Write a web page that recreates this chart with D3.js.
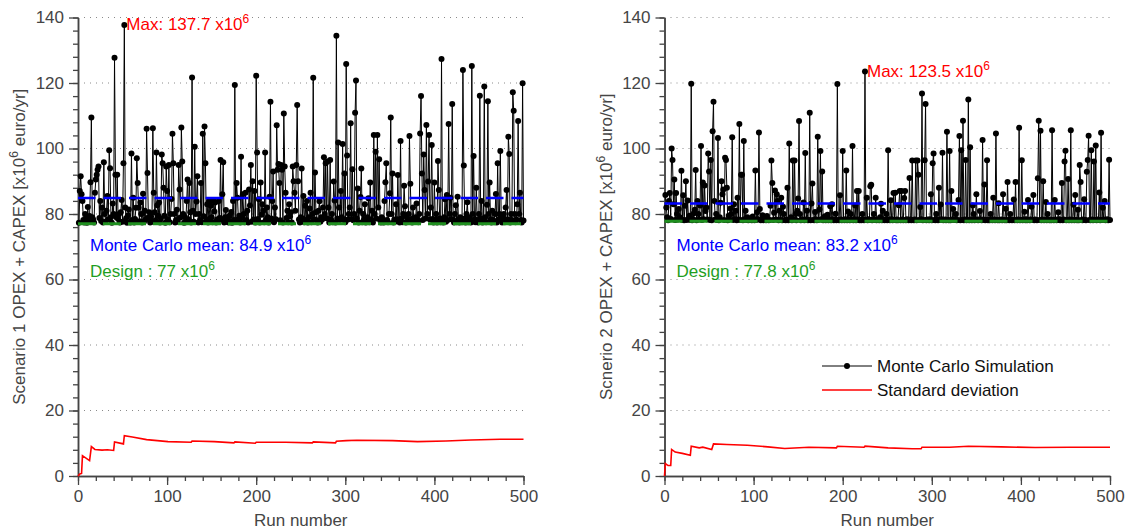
<!DOCTYPE html>
<html>
<head>
<meta charset="utf-8">
<script src="https://cdn.jsdelivr.net/npm/d3@7"></script>
<style>
  html, body { margin: 0; padding: 0; background: #fff; }
  svg { display: block; font-family: "Liberation Sans", Arial, Helvetica, sans-serif; }
</style>
</head>
<body>
<svg id="chart" width="1127" height="529"></svg>
<script>
// ---------------- DATA ----------------
const xTicks = [0, 100, 200, 300, 400, 500];
const yTicks = [0, 20, 40, 60, 80, 100, 120, 140];

// Scenario 1: Monte Carlo simulation, runs 1..500 (values x10^6 euro/yr)
const scenario1Runs = [
77.3,87,91.5,86,84,78.2,77.4,80,78.6,77.3,82.1,77.6,79.4,89.7,109.5,79,78.3,77.4,86.5,90.5,
92,93.5,94.5,78.8,84,77.9,82,77.4,95.8,80,77.6,81,85.5,78.4,99.5,94,79,77.3,83.2,80,
127.7,92,79,92,78.5,80,77.4,80.5,84.3,77.6,95.5,137.7,82,78.7,77.3,79.6,81.4,77.5,77.4,98.5,
78.2,85,77.4,78.5,81.9,97,89.5,82,77.8,83.5,80,77.4,86.2,77.6,81,78.3,106,92.5,78.9,80.5,
77.4,79.2,77.6,106.2,86.5,80.5,78.1,98.8,82.7,79.5,83.5,77.4,78.6,98.2,95.5,88,79.5,77.3,94.5,87,
78.4,95,77.5,80,84.6,104.5,95.5,80,77.4,78.2,81.3,77.6,95,87.5,78.9,106.4,96,80,77.3,79.1,
77.5,84,90.5,78.4,89.5,80.5,77.4,121.7,81,77.6,100.5,80,83.8,91.5,77.4,80,78.2,89.5,77.5,104.5,
79.3,106.7,95.5,78.1,83,77.4,84,78.6,82.5,79,77.5,84,80.8,83.5,77.4,78.3,77.6,84,78.8,96.5,
78.4,86,95.8,77.4,79,81.2,77.6,78.3,77.4,79.5,77.5,80.6,77.3,84,78.2,119.4,77.6,89.5,85,78.4,
79.5,77.4,97.5,78.9,86,80,77.5,86.5,78.2,81,77.4,87.5,82.6,95,77.6,90,78.3,87,77.4,122.2,
98.8,78.5,84.5,77.4,89.6,79.8,83,81,77.5,98.8,78.2,82,79,77.4,85.3,114.3,78.6,84,93,77.5,
82,78.4,107.1,93.5,95.3,89.5,78.1,95,93.5,77.4,110.7,94.5,86.5,78.8,81,77.5,83,79.2,80.5,77.4,
94.5,90,86.5,81,95,113.3,90,78.3,77.4,79,93.9,78.6,85.5,77.5,82.5,78.2,84,77.4,79,81.7,
86.5,77.5,80,121.6,78.4,92.7,80.5,78.1,77.4,81,83.9,77.6,79,78.3,82,97.3,80,95.5,78.7,96,
82,77.4,96.5,78.3,80,77.5,89.9,84.1,77.4,134.4,78.6,101.8,82,78.2,87,79,101.4,78.4,92.4,77.5,
125.8,97.9,78.3,80,82,107.7,78.5,93.7,78.1,80,110.9,120.8,78.6,87.8,77.4,81,85.2,93.9,77.5,80,
78.4,83,77.4,78.2,79,84.8,77.5,89.6,78.3,81,77.4,104.1,80,99,78.6,104.1,82,96.7,78.2,77.4,
79,78.5,77.4,84,89.7,95.5,78.2,77.5,80,86.3,109.5,80,92.4,77.4,78.3,77.6,83,78.4,91.9,78.1,
77.4,102.3,78.6,77.5,80,88.6,82.4,77.4,79,78.2,80,103.8,89.2,78.5,77.4,82,78.3,77.6,79,83.2,
78.4,77.5,80,104.6,116,92.4,78.2,98.2,87.3,78.6,107.2,80,89.9,104.1,78.3,82,101.1,78.5,77.4,89.6,
78.2,80,77.4,96.2,87.3,78.6,77.5,127.3,78.3,77.4,79,84.5,77.6,85.8,78.2,107.5,80,85,78.4,113.6,
78.3,77.4,80,82.7,77.5,85.3,78.4,77.4,79,78.2,77.5,124,94.8,78.6,77.4,80,83.6,77.5,79,78.3,
77.4,125.2,80,97.7,78.4,77.5,88,78.2,77.4,80,116.1,78.6,84,77.4,78.3,118.9,79,77.5,82.8,114.4,
80,89.6,78.4,77.4,81,78.2,77.5,80,86.1,77.4,95.5,78.3,80,99.2,78.6,77.4,79,80,77.5,82,
87.3,78.4,103.6,98.3,77.4,80,78.2,117.2,111.5,80,77.5,78.3,83,108.4,80,86.5,78.2,77.4,119.9,78
];

// Scenario 2: Monte Carlo simulation, runs 1..500
const scenario2Runs = [
85.8,82,79,78.1,84,86.4,78.5,100,96.5,83,90.5,78.2,86.4,80,78.3,81.5,79,78.4,93.2,78.2,
85.7,78.1,82.5,90,78.2,84.1,78.4,79.5,78.2,119.8,78.1,78.5,80.2,81.3,93.4,78.1,84,80,78.3,82.6,
100.8,78.2,89.6,78.4,88.7,80.9,82,78.3,98.5,93,78.2,96.5,78.1,105.3,114.3,84,78.3,80,78.2,103.2,
78.1,79,83.4,90,86,87.5,78.2,97.2,96.5,88,78.1,79.5,78.3,81.7,80,103.4,78.2,83,78.4,81,
78.1,85,78.3,107.5,78.2,92,92,78.1,102.3,78.4,81,78.2,79,78.1,78.3,78.2,78.5,78.1,79.2,78.3,
78.1,93.3,78.2,80.5,78.4,104.9,81.5,78.1,78.3,79.6,78.1,78.5,78.2,78.1,79.4,78.3,78.1,78.2,82.5,96.3,
89.5,78.2,80.4,87.2,78.3,86,84,78.1,81,78.2,85,78.1,82.2,80,78.2,78.1,78.3,88,78.1,101.5,
78.2,79,78.1,96.3,78.3,96.3,80,78.1,81,84.7,108.4,80,78.1,78.4,78.2,83.5,78.1,98.6,78.3,81,
78.1,78.2,110.9,78.1,83.2,89.3,78.2,78.1,80.6,78.3,78.1,103.6,78.2,81.4,99.2,78.4,93,78.1,78.2,79.3,
78.1,78.2,79.8,78.1,78.3,82.4,78.1,83,78.4,78.1,78.2,80.1,78.1,119.7,78.2,78.1,85.7,78.3,78.1,99.2,
78.2,78.1,78.4,93.3,78.1,80.8,78.3,78.1,80,78.2,100.8,78.1,78.4,82.6,78.1,87,78.3,87,78.1,78.2,
78.1,80,78.3,78.1,123.5,78.2,85,78.1,78.4,78.2,88.5,88.9,78.1,78.3,80,78.2,85,78.1,78.3,78.2,
78.1,79,83.1,78.1,81,78.3,78.1,78.2,80,78.1,99.5,78.3,78.1,84.2,78.4,78.1,86.4,78.2,86.5,78.1,
78.3,78.1,82.7,87,78.1,87,78.3,78.1,84.9,87,78.1,78.4,78.2,78.1,91,78.3,78.1,96.3,78.2,78.1,
78.3,96.3,78.1,96.3,92,78.2,82.1,78.4,116.8,78.1,78.2,96.4,113.6,78.1,78.3,78.2,78.1,78.4,86,78.1,
95.5,98.5,78.2,78.1,80,78.3,78.1,88,78.2,82.9,78.4,98.7,78.1,78.2,78.3,78.1,105.1,78.2,78.1,99.2,
78.1,87,78.3,81.5,78.2,78.4,80,78.1,78.2,84.3,103.8,78.1,99.5,78.2,108.5,78.1,78.3,96.5,78.1,78.2,
115,78.1,100.4,78.3,78.1,82.6,80,78.1,78.4,86,78.2,78.1,78.3,80.9,78.2,78.1,102.6,78.3,89,78.1,
78.2,96.4,78.1,78.3,78.1,80,78.2,78.1,85,78.3,78.1,104.6,78.2,78.1,83.3,78.1,78.2,78.3,78.1,86,
78.2,78.1,81.6,78.1,89.8,78.2,78.1,80,78.3,78.1,78.2,84.4,78.1,89.8,78.2,78.1,78.3,106.3,78.1,78.2,
96.4,78.1,78.3,80.7,78.1,78.4,78.1,84.3,78.2,78.1,78.3,82.2,78.2,85.8,78.1,78.3,78.2,78.1,90.9,108.5,
78.2,105.4,78.1,78.3,90,78.1,78.2,83.7,78.1,80,78.2,78.1,78.3,78.1,105.6,78.2,78.1,84.3,78.3,78.1,
78.2,80.5,78.4,78.1,78.2,89.5,78.1,78.3,96,99.3,78.1,78.2,90.7,78.1,78.3,105.6,78.1,78.2,82.8,78.1,
85.8,78.2,78.1,81.3,78.1,95,89.8,78.2,78.1,78.3,84.5,78.2,78.1,92.9,96.5,103.9,78.2,78.1,99.5,78.3,
78.1,96,78.2,100.9,78.1,78.3,78.2,86.6,78.1,104.8,78.2,81.9,78.3,84,78.1,78.2,78.4,78.1,96.6,78.2
];

// Running standard deviation, read at its turning points: [run, value]
const scenario1Std = [
[0,0],[2,0.6],[4,0.8],[5,6.2],[13,4.7],[15,9.0],[19,8.1],[27,7.9],[33,8.0],[40,7.8],[41,10.4],
[51,9.8],[52,12.3],[61,11.9],[77,11.1],[101,10.5],[127,10.3],[128,10.7],[153,10.5],[175,10.1],
[176,10.4],[199,10.0],[200,10.3],[233,10.3],[263,10.1],[264,10.4],[289,10.1],[290,10.6],[301,10.8],
[313,10.9],[353,10.8],[381,10.5],[413,10.7],[441,11.0],[474,11.2],[500,11.2]
];
const scenario2Std = [
[0,0],[1,3.8],[4,3.2],[7,3.2],[8,8.1],[12,7.3],[20,6.9],[29,6.3],[30,9.1],[39,8.6],[43,8.8],
[53,8.1],[55,9.8],[70,9.6],[93,9.4],[116,8.9],[135,8.4],[162,8.8],[193,8.6],[194,9.1],[224,8.8],
[225,9.1],[251,8.6],[278,8.3],[288,8.3],[289,8.8],[320,8.8],[341,9.1],[378,8.9],[416,8.7],[455,8.8],[500,8.8]
];

const meanValues = [84.9, 83.2];
const designValues = [77, 77.8];
const maxValues = [137.7, 123.5];
const yLabels = ["Scenario 1 OPEX + CAPEX [x10", "Scnerio 2 OPEX + CAPEX [x10"];
const legendLabels = ["Monte Carlo Simulation", "Standard deviation"];

// ---------------- DRAW ----------------
const svg = d3.select("#chart");
const FONT = 17;
const SUPF = 12;
const panels = [
  { x0: 78, x1: 523.5, runs: scenario1Runs, std: scenario1Std, mean: meanValues[0], design: designValues[0], max: maxValues[0], ylab: yLabels[0], meanLab: "84.9", designLab: "77" },
  { x0: 664.5, x1: 1110, runs: scenario2Runs, std: scenario2Std, mean: meanValues[1], design: designValues[1], max: maxValues[1], ylab: yLabels[1], meanLab: "83.2", designLab: "77.8" }
];
const yTop = 17.5, yBot = 476;

function sup(textSel, base, supTxt, tail) {
  textSel.append("tspan").text(base);
  textSel.append("tspan").attr("font-size", SUPF).attr("dy", -7).text(supTxt);
  if (tail) textSel.append("tspan").attr("dy", 7).text(tail);
}

panels.forEach((p, pi) => {
  const x = d3.scaleLinear().domain([0, 500]).range([p.x0, p.x1]);
  const y = d3.scaleLinear().domain([0, 140]).range([yBot, yTop]);
  const g = svg.append("g");

  // gridlines
  g.selectAll(".grid").data(yTicks.filter(d => d > 0)).join("line")
    .attr("x1", x(0)).attr("x2", x(500))
    .attr("y1", d => y(d)).attr("y2", d => y(d))
    .attr("stroke", "#8a8a8a").attr("stroke-width", 1).attr("stroke-dasharray", "1,5");

  // axes
  const axColor = "#444";
  const xMinor = g.append("g").attr("transform", `translate(0,${yBot})`)
    .call(d3.axisBottom(x).tickValues(d3.range(0, 501, 20)).tickSize(5).tickSizeOuter(0).tickFormat(""));
  const xMajor = g.append("g").attr("transform", `translate(0,${yBot})`)
    .call(d3.axisBottom(x).tickValues(xTicks).tickSize(9).tickSizeOuter(0).tickPadding(5));
  const yMinor = g.append("g").attr("transform", `translate(${p.x0},0)`)
    .call(d3.axisLeft(y).tickValues(d3.range(0, 141, 4)).tickSize(5).tickSizeOuter(0).tickFormat(""));
  const yMajor = g.append("g").attr("transform", `translate(${p.x0},0)`)
    .call(d3.axisLeft(y).tickValues(yTicks).tickSize(9).tickSizeOuter(0).tickPadding(5));
  [xMinor, xMajor, yMinor, yMajor].forEach(a => {
    a.selectAll("path.domain").attr("stroke", axColor).attr("stroke-width", 1.5);
    a.selectAll(".tick line").attr("stroke", axColor).attr("stroke-width", 1.3);
    a.selectAll(".tick text").attr("fill", "#454545").attr("font-size", FONT)
      .attr("font-family", "Liberation Sans, Arial, sans-serif");
  });

  // axis titles
  g.append("text").attr("x", (p.x0 + p.x1) / 2).attr("y", 526)
    .attr("text-anchor", "middle").attr("fill", "#454545").attr("font-size", FONT).text("Run number");
  const yl = g.append("text")
    .attr("transform", `translate(${p.x0 - 53},${(yTop + yBot) / 2}) rotate(-90)`)
    .attr("text-anchor", "middle").attr("fill", "#454545").attr("font-size", FONT);
  sup(yl, p.ylab, "6", " euro/yr]");

  // MC line
  const pts = p.runs.map((v, i) => [i + 1, v]);
  g.append("path").datum(pts)
    .attr("d", d3.line().x(d => x(d[0])).y(d => y(d[1])))
    .attr("fill", "none").attr("stroke", "#000").attr("stroke-width", 1);

  // dots
  g.selectAll(".dot").data(pts).join("circle")
    .attr("cx", d => x(d[0])).attr("cy", d => y(d[1])).attr("r", 3).attr("fill", "#000");

  // design line
  g.append("line").attr("x1", x(0)).attr("x2", x(500))
    .attr("y1", y(p.design)).attr("y2", y(p.design))
    .attr("stroke", "#1f8f1f").attr("stroke-width", 3).attr("stroke-dasharray", "18,7");

  // mean line
  g.append("line").attr("x1", x(0)).attr("x2", x(500))
    .attr("y1", y(p.mean)).attr("y2", y(p.mean))
    .attr("stroke", "#0000ff").attr("stroke-width", 2.5).attr("stroke-dasharray", "17.5,8");

  // std line
  g.append("path").datum(p.std)
    .attr("d", d3.line().x(d => x(d[0])).y(d => y(d[1])))
    .attr("fill", "none").attr("stroke", "#ff0000").attr("stroke-width", 1.6);

  // max annotation
  const maxIdx = d3.maxIndex(p.runs);
  const mt = g.append("text").attr("x", x(maxIdx + 1) + 2).attr("y", y(p.runs[maxIdx]) + 5)
    .attr("fill", "#ff0000").attr("font-size", FONT);
  sup(mt, "Max: " + p.max + " x10", "6");

  // mean & design annotations
  const t1 = g.append("text").attr("x", p.x0 + 12).attr("y", 251).attr("fill", "#0000ff").attr("font-size", FONT);
  sup(t1, "Monte Carlo mean: " + p.meanLab + " x10", "6");
  const t2 = g.append("text").attr("x", p.x0 + 12).attr("y", 276.5).attr("fill", "#1f9e1f").attr("font-size", FONT);
  sup(t2, "Design : " + p.designLab + " x10", "6");

  // legend in second panel
  if (pi === 1) {
    const lg = g.append("g");
    lg.append("line").attr("x1", 822).attr("x2", 872).attr("y1", 366).attr("y2", 366)
      .attr("stroke", "#000").attr("stroke-width", 1);
    lg.append("circle").attr("cx", 847).attr("cy", 366).attr("r", 3).attr("fill", "#000");
    lg.append("text").attr("x", 877).attr("y", 372).attr("font-size", FONT).attr("fill", "#111").text(legendLabels[0]);
    lg.append("line").attr("x1", 822).attr("x2", 872).attr("y1", 390).attr("y2", 390)
      .attr("stroke", "#ff0000").attr("stroke-width", 1.6);
    lg.append("text").attr("x", 877).attr("y", 396).attr("font-size", FONT).attr("fill", "#111").text(legendLabels[1]);
  }
});
</script>
</body>
</html>
